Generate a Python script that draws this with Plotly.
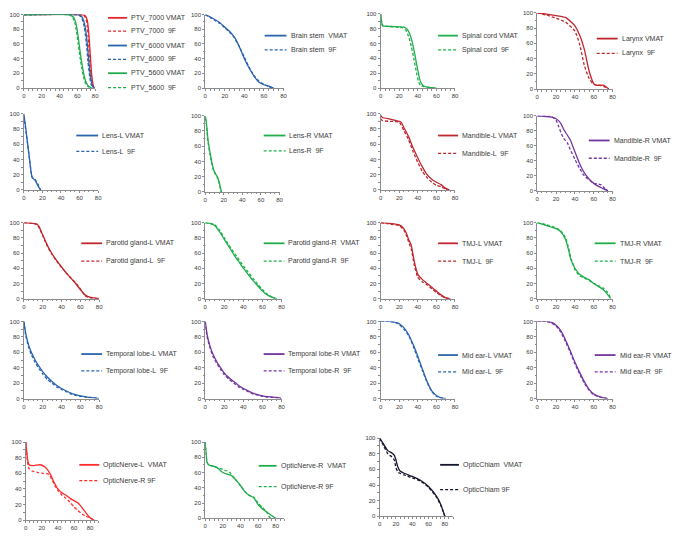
import plotly.graph_objects as go

W, H = 683, 542

# ---------------- data (dose Gy, volume %) ----------------
PTV7000_VMAT_D = [0, 64, 67, 69, 71, 72, 73, 74, 75, 76, 77, 78, 79]
PTV7000_VMAT_V = [100, 100, 99.5, 98, 93, 85, 72, 55, 36, 20, 9, 3, 0]
PTV7000_9F_D = [0, 63, 66, 68, 70, 71, 72, 73, 74, 75, 76, 77, 78]
PTV7000_9F_V = [100, 100, 99.5, 98, 93, 85, 72, 55, 36, 20, 9, 3, 0]
PTV6000_VMAT_D = [0, 60, 63, 65, 67, 69, 71, 73, 75, 77, 79]
PTV6000_VMAT_V = [100, 100, 99, 97, 92, 82, 62, 35, 14, 3, 0]
PTV6000_9F_D = [0, 59, 62, 64, 66, 68, 70, 72, 74, 76, 78]
PTV6000_9F_V = [100, 100, 99, 97, 92, 82, 62, 35, 14, 3, 0]
PTV5600_VMAT_D = [0, 50, 53, 56, 58, 60, 62, 64, 66, 68, 70, 73, 76]
PTV5600_VMAT_V = [100, 100, 99, 96, 90, 78, 60, 42, 27, 15, 7, 2, 0]
PTV5600_9F_D = [0, 49, 52, 55, 57, 59, 61, 63, 65, 67, 69, 72, 75]
PTV5600_9F_V = [100, 100, 99, 96, 90, 78, 60, 42, 27, 15, 7, 2, 0]

BRAIN_VMAT_D = [0, 5, 10, 15, 20, 25, 30, 35, 40, 45, 50, 55, 60, 65, 70]
BRAIN_VMAT_V = [100, 97, 93, 89, 83, 77, 69, 56, 40, 27, 16, 8, 4.5, 2.5, 0]
BRAIN_9F_D = [0, 5, 10, 15, 20, 25, 30, 35, 40, 45, 50, 55, 60, 65, 68]
BRAIN_9F_V = [100, 96, 92, 88, 82, 76, 68, 56, 42, 28, 17, 9, 5, 2, 0]

CORD_VMAT_D = [0, 1, 2, 10, 20, 25, 28, 31, 34, 37, 40, 42, 44, 47, 52, 60]
CORD_VMAT_V = [100, 90, 84, 83, 82.5, 82, 80, 74, 62, 44, 24, 12, 6, 2.5, 1, 0]
CORD_9F_D = [0, 1, 2, 10, 20, 24, 27, 30, 33, 36, 39, 41, 43, 47, 55, 58]
CORD_9F_V = [100, 90, 84, 83, 82, 81, 78, 70, 56, 38, 18, 8, 3.5, 1.5, 0.5, 0]

LARYNX_VMAT_D = [0, 10, 20, 30, 36, 40, 45, 50, 55, 60, 62, 70, 73, 76]
LARYNX_VMAT_V = [100, 98.5, 96.5, 94, 88, 83, 71, 52, 24, 7, 5, 5, 3, 0]
LARYNX_9F_D = [0, 10, 20, 30, 40, 45, 50, 55, 60, 65, 70, 75]
LARYNX_9F_V = [100, 97, 93, 88, 76, 59, 31, 14, 6, 5, 4, 0]

LENSL_VMAT_D = [0, 2, 4, 6, 8, 9, 12, 15, 18]
LENSL_VMAT_V = [100, 82, 62, 42, 22, 16, 13, 6, 0]
LENSL_9F_D = [0, 3, 6, 9, 12, 15, 18]
LENSL_9F_V = [97, 70, 42, 17, 14, 8, 0]

LENSR_VMAT_D = [0, 1, 2, 3, 5, 7, 9, 11, 13, 15, 16.5, 17.5]
LENSR_VMAT_V = [100, 93, 82, 68, 53, 40, 29, 24, 20, 13, 5, 0]
LENSR_9F_D = [0, 1, 2, 3, 5, 7, 9, 11, 13, 15, 16.5, 17]
LENSR_9F_V = [97, 92, 78, 66, 50, 38, 28, 23, 19, 12, 3, 0]

MANDL_VMAT_D = [0, 2, 10, 20, 22, 25, 30, 35, 40, 45, 50, 55, 60, 65, 70, 74]
MANDL_VMAT_V = [98, 95, 93, 90, 89, 82, 70, 55, 42, 30, 20, 14, 10, 7, 2, 0]
MANDL_9F_D = [0, 2, 10, 20, 25, 30, 35, 40, 45, 50, 55, 60, 65, 70, 73]
MANDL_9F_V = [93, 91, 90, 89, 78, 66, 50, 36, 24, 16, 10, 6, 4, 1, 0]

MANDR_VMAT_D = [0, 10, 15, 20, 25, 28, 30, 35, 40, 45, 50, 55, 60, 65, 70, 75]
MANDR_VMAT_V = [100, 99, 98, 96, 90, 82, 78, 68, 52, 36, 24, 16, 10, 6, 3, 0]
MANDR_9F_D = [0, 10, 15, 20, 23, 25, 28, 32, 35, 40, 45, 50, 55, 60, 65, 68, 72, 75]
MANDR_9F_V = [100, 100, 99, 94, 85, 78, 70, 64, 55, 42, 30, 20, 15, 10, 9, 8, 3, 0]

PARL_VMAT_D = [0, 10, 14, 16, 20, 25, 30, 35, 40, 45, 50, 55, 60, 65, 70, 75, 80]
PARL_VMAT_V = [100, 99, 98, 95, 84, 70, 59, 50, 42, 34, 27, 20, 12, 5, 2, 1, 0]
PARL_9F_D = [0, 10, 14, 16, 20, 25, 30, 35, 40, 45, 50, 55, 60, 65, 70, 75, 78]
PARL_9F_V = [100, 99, 97, 94, 83, 69, 58, 49, 41, 34, 27, 21, 13, 4, 1, 0.5, 0]

PARR_VMAT_D = [0, 5, 10, 15, 20, 25, 30, 35, 40, 45, 50, 55, 60, 65, 70, 75]
PARR_VMAT_V = [100, 99, 96, 88, 78, 68, 58, 49, 40, 32, 24, 17, 10, 5, 2, 0]
PARR_9F_D = [0, 5, 10, 15, 20, 25, 30, 35, 40, 45, 50, 55, 60, 65, 70, 73]
PARR_9F_V = [100, 99, 97, 90, 80, 70, 61, 52, 43, 35, 27, 19, 12, 6, 2, 0]

TMJL_VMAT_D = [0, 10, 20, 25, 28, 30, 33, 36, 40, 45, 50, 55, 60, 65, 70, 75]
TMJL_VMAT_V = [100, 99, 97, 92, 85, 78, 70, 50, 32, 25, 20, 15, 10, 5, 1, 0]
TMJL_9F_D = [0, 10, 20, 25, 28, 30, 33, 36, 40, 45, 50, 55, 60, 65, 70, 73]
TMJL_9F_V = [100, 98, 96, 90, 82, 75, 65, 45, 28, 22, 18, 13, 8, 4, 1, 0]

TMJR_VMAT_D = [0, 10, 20, 25, 30, 33, 36, 38, 40, 45, 50, 55, 60, 65, 70, 75, 78]
TMJR_VMAT_V = [100, 96, 92, 88, 78, 65, 50, 45, 40, 32, 28, 25, 20, 16, 12, 5, 0]
TMJR_9F_D = [0, 10, 20, 25, 30, 33, 36, 38, 40, 45, 50, 55, 60, 65, 70, 75, 78]
TMJR_9F_V = [100, 97, 93, 89, 80, 68, 52, 46, 38, 30, 27, 24, 20, 17, 14, 8, 0]

TEMPL_VMAT_D = [0, 2, 5, 8, 12, 16, 20, 25, 30, 35, 40, 45, 50, 55, 60, 65, 70, 75, 80]
TEMPL_VMAT_V = [100, 85, 70, 60, 50, 42, 35, 28, 22, 17, 13, 10, 7, 5, 3.5, 2.5, 1.5, 1, 0]
TEMPL_9F_D = [0, 2, 5, 8, 12, 16, 20, 25, 30, 35, 40, 45, 50, 55, 60, 65, 70, 75, 80]
TEMPL_9F_V = [100, 82, 67, 57, 47, 39, 32, 25, 20, 15, 12, 9, 6, 4, 3, 2, 1.5, 1, 0]

TEMPR_VMAT_D = [0, 2, 5, 8, 12, 16, 20, 25, 30, 35, 40, 45, 50, 55, 60, 65, 70, 75, 80]
TEMPR_VMAT_V = [100, 83, 68, 58, 48, 40, 33, 27, 22, 17, 13, 10, 7, 5, 3.5, 2.5, 2, 1.5, 0]
TEMPR_9F_D = [0, 2, 5, 8, 12, 16, 20, 25, 30, 35, 40, 45, 50, 55, 60, 65, 70, 75, 80]
TEMPR_9F_V = [100, 80, 66, 55, 46, 38, 31, 25, 20, 15, 12, 9, 6, 4.5, 3, 2, 1.5, 1, 0]

MIDL_VMAT_D = [0, 10, 15, 20, 25, 30, 35, 40, 45, 50, 55, 60, 65, 70]
MIDL_VMAT_V = [100, 100, 99, 97, 92, 83, 70, 55, 38, 22, 10, 4, 1, 0]
MIDL_9F_D = [0, 10, 15, 20, 25, 30, 35, 40, 45, 50, 55, 60, 65, 70]
MIDL_9F_V = [100, 100, 99, 96, 90, 82, 68, 52, 36, 21, 9, 3, 1, 0]

MIDR_VMAT_D = [0, 10, 15, 20, 25, 30, 35, 40, 45, 50, 55, 60, 65, 70, 75]
MIDR_VMAT_V = [100, 100, 99, 95, 88, 76, 62, 47, 34, 22, 12, 6, 3, 1, 0]
MIDR_9F_D = [0, 10, 15, 20, 25, 30, 35, 40, 45, 50, 55, 60, 65, 70, 75]
MIDR_9F_V = [100, 100, 98, 94, 86, 74, 60, 45, 32, 20, 11, 5, 2.5, 1, 0]

ONL_VMAT_D = [0, 2, 4, 10, 18, 24, 30, 35, 40, 45, 50, 55, 60, 65, 70, 75, 80, 85]
ONL_VMAT_V = [100, 80, 71, 70, 71, 68, 60, 49, 40, 35, 32, 28, 25, 22, 16, 9, 3, 0]
ONL_9F_D = [0, 2, 4, 8, 15, 22, 28, 32, 36, 40, 45, 50, 55, 60, 65, 70, 75, 80, 84]
ONL_9F_V = [100, 76, 66, 63, 61, 60, 59, 53, 45, 38, 32, 28, 23, 17, 12, 8, 5, 3, 0]

ONR_VMAT_D = [0, 1, 2, 4, 10, 15, 20, 25, 30, 35, 40, 45, 50, 55, 60, 65, 70, 75, 80]
ONR_VMAT_V = [100, 85, 74, 70, 68, 65, 60, 58, 56, 50, 43, 35, 30, 27, 18, 12, 8, 4, 0]
ONR_9F_D = [0, 1, 2, 4, 10, 15, 20, 25, 28, 32, 35, 40, 45, 50, 55, 60, 65, 70, 72, 74]
ONR_9F_V = [100, 85, 74, 70, 68, 66, 64, 62, 60, 54, 50, 43, 35, 30, 28, 20, 14, 8, 3, 0]

OCH_VMAT_D = [0, 5, 10, 15, 18, 20, 22, 25, 30, 40, 50, 60, 70, 75, 80]
OCH_VMAT_V = [100, 92, 84, 81, 78, 72, 64, 58, 55, 51, 46, 38, 25, 15, 0]
OCH_9F_D = [0, 5, 10, 15, 18, 20, 23, 30, 40, 50, 60, 70, 75, 80]
OCH_9F_V = [100, 90, 80, 76, 72, 62, 56, 53, 49, 45, 37, 24, 14, 0]

X_TICKS = [0, 20, 40, 60, 80]
Y_TICKS = [0, 20, 40, 60, 80, 100]

# ---------------- styling ----------------
RED = '#e4262b'
DRED = '#c0262d'
BLUE = '#2a64ad'
GREEN = '#1fae4b'
PURPLE = '#7236a0'
ORED = '#ff2b2b'
BLACK = '#161630'
AXC = '#8c8c8c'
TXT = '#3a3a3a'
FONT = 'Liberation Sans'

S, D = 'solid', '3px,2px'

panels = [
    # row 1
    dict(px=(22, 94), py=(11.7, 86), xmax=80, leg=(107, 126, 128, [15, 28.5, 43, 57, 71, 85.5]),
         series=[("PTV_7000 VMAT", PTV7000_VMAT_D, PTV7000_VMAT_V, RED, S),
                 ("PTV_7000  9F", PTV7000_9F_D, PTV7000_9F_V, RED, D),
                 ("PTV_6000 VMAT", PTV6000_VMAT_D, PTV6000_VMAT_V, BLUE, S),
                 ("PTV_6000  9F", PTV6000_9F_D, PTV6000_9F_V, BLUE, D),
                 ("PTV_5600 VMAT", PTV5600_VMAT_D, PTV5600_VMAT_V, GREEN, S),
                 ("PTV_5600  9F", PTV5600_9F_D, PTV5600_9F_V, GREEN, D)]),
    dict(px=(205, 284), py=(11.7, 86), xmax=80, leg=(265, 287, 290, [33, 47.5]),
         series=[("Brain stem  VMAT", BRAIN_VMAT_D, BRAIN_VMAT_V, BLUE, S),
                 ("Brain stem  9F", BRAIN_9F_D, BRAIN_9F_V, BLUE, D)]),
    dict(px=(382, 457), py=(11, 86), xmax=80, leg=(440, 460, 462, [33, 47.5]),
         series=[("Spinal cord VMAT", CORD_VMAT_D, CORD_VMAT_V, GREEN, S),
                 ("Spinal cord  9F", CORD_9F_D, CORD_9F_V, GREEN, D)]),
    dict(px=(540, 616), py=(10, 87), xmax=80, leg=(600, 621, 623, [36, 51]),
         series=[("Larynx VMAT", LARYNX_VMAT_D, LARYNX_VMAT_V, DRED, S),
                 ("Larynx  9F", LARYNX_9F_D, LARYNX_9F_V, DRED, D)]),
    # row 2
    dict(px=(22, 97), py=(112, 189), xmax=80, leg=(75, 97, 99, [134, 150]),
         series=[("Lens-L VMAT", LENSL_VMAT_D, LENSL_VMAT_V, BLUE, S),
                 ("Lens-L  9F", LENSL_9F_D, LENSL_9F_V, BLUE, D)]),
    dict(px=(205, 280), py=(114, 191), xmax=80, leg=(264, 286, 288, [134, 149.5]),
         series=[("Lens-R VMAT", LENSR_VMAT_D, LENSR_VMAT_V, GREEN, S),
                 ("Lens-R  9F", LENSR_9F_D, LENSR_9F_V, GREEN, D)]),
    dict(px=(382, 457), py=(112, 189), xmax=80, leg=(440, 460, 462, [134, 152]),
         series=[("Mandible-L VMAT", MANDL_VMAT_D, MANDL_VMAT_V, DRED, S),
                 ("Mandible-L  9F", MANDL_9F_D, MANDL_9F_V, DRED, D)]),
    dict(px=(540, 616), py=(114, 190), xmax=80, leg=(592, 613, 615, [139, 157]),
         series=[("Mandible-R VMAT", MANDR_VMAT_D, MANDR_VMAT_V, PURPLE, S),
                 ("Mandible-R  9F", MANDR_9F_D, MANDR_9F_V, PURPLE, D)]),
    # row 3
    dict(px=(22, 98), py=(222, 299), xmax=80, leg=(80, 101, 103, [243, 261]),
         series=[("Parotid gland-L VMAT", PARL_VMAT_D, PARL_VMAT_V, DRED, S),
                 ("Parotid gland-L  9F", PARL_9F_D, PARL_9F_V, DRED, D)]),
    dict(px=(205, 282), py=(222, 299), xmax=80, leg=(264, 285, 287, [243, 261]),
         series=[("Parotid gland-R  VMAT", PARR_VMAT_D, PARR_VMAT_V, GREEN, S),
                 ("Parotid gland-R  9F", PARR_9F_D, PARR_9F_V, GREEN, D)]),
    dict(px=(382, 457), py=(222, 299), xmax=80, leg=(440, 460, 462, [243, 261]),
         series=[("TMJ-L VMAT", TMJL_VMAT_D, TMJL_VMAT_V, DRED, S),
                 ("TMJ-L  9F", TMJL_9F_D, TMJL_9F_V, DRED, D)]),
    dict(px=(540, 616), py=(222, 299), xmax=80, leg=(598, 619, 621, [243, 261]),
         series=[("TMJ-R VMAT", TMJR_VMAT_D, TMJR_VMAT_V, GREEN, S),
                 ("TMJ-R  9F", TMJR_9F_D, TMJR_9F_V, GREEN, D)]),
    # row 4
    dict(px=(22, 98), py=(322, 400), xmax=80, leg=(80, 101, 103, [355, 372]),
         series=[("Temporal lobe-L VMAT", TEMPL_VMAT_D, TEMPL_VMAT_V, BLUE, S),
                 ("Temporal lobe-L  9F", TEMPL_9F_D, TEMPL_9F_V, BLUE, D)]),
    dict(px=(205, 282), py=(322, 400), xmax=80, leg=(264, 285, 287, [355, 372]),
         series=[("Temporal lobe-R VMAT", TEMPR_VMAT_D, TEMPR_VMAT_V, PURPLE, S),
                 ("Temporal lobe-R  9F", TEMPR_9F_D, TEMPR_9F_V, PURPLE, D)]),
    dict(px=(382, 457), py=(322, 400), xmax=80, leg=(440, 460, 462, [356, 373]),
         series=[("Mid ear-L VMAT", MIDL_VMAT_D, MIDL_VMAT_V, BLUE, S),
                 ("Mid ear-L  9F", MIDL_9F_D, MIDL_9F_V, BLUE, D)]),
    dict(px=(540, 616), py=(322, 400), xmax=80, leg=(598, 619, 621, [356, 373]),
         series=[("Mid ear-R VMAT", MIDR_VMAT_D, MIDR_VMAT_V, PURPLE, S),
                 ("Mid ear-R  9F", MIDR_9F_D, MIDR_9F_V, PURPLE, D)]),
    # row 5
    dict(px=(24, 97), py=(444, 523), xmax=90, leg=(78, 98, 100, [467, 483]),
         series=[("OpticNerve-L  VMAT", ONL_VMAT_D, ONL_VMAT_V, ORED, S),
                 ("OpticNerve-R 9F", ONL_9F_D, ONL_9F_V, ORED, D)]),
    dict(px=(205, 285), py=(444, 521), xmax=90, leg=(259, 277, 279, [468, 489]),
         series=[("OpticNerve-R  VMAT", ONR_VMAT_D, ONR_VMAT_V, GREEN, S),
                 ("OpticNerve-R 9F", ONR_9F_D, ONR_9F_V, GREEN, D)]),
    dict(px=(381, 455), py=(440, 519), xmax=90, leg=(442, 461, 463, [467, 492]),
         series=[("OpticChiam  VMAT", OCH_VMAT_D, OCH_VMAT_V, BLACK, S),
                 ("OpticChiam 9F", OCH_9F_D, OCH_9F_V, BLACK, D)]),
]

fig = go.Figure()
layout = dict(width=W, height=H, margin=dict(l=0, r=0, t=0, b=0),
              paper_bgcolor='white', plot_bgcolor='white', showlegend=False,
              hovermode=False)
shapes, annots = [], []

for i, p in enumerate(panels):
    k = '' if i == 0 else str(i + 1)
    xa, ya = 'x' + k, 'y' + k
    x0, x1 = p['px']
    yt, yb = p['py']
    common = dict(showline=True, linecolor=AXC, linewidth=1, ticks='outside', ticklen=2,
                  tickcolor=AXC, tickwidth=1, showgrid=False, zeroline=False,
                  tickfont=dict(family=FONT, size=6, color=TXT), fixedrange=True)
    layout['xaxis' + k] = dict(domain=[x0 / W, x1 / W], range=[0, p['xmax']], anchor=ya,
                               tickvals=X_TICKS,
                               minor=dict(dtick=5, ticks='outside', ticklen=1.5, tickcolor=AXC),
                               **common)
    layout['yaxis' + k] = dict(domain=[1 - yb / H, 1 - yt / H], range=[0, 100], anchor=xa,
                               tickvals=Y_TICKS,
                               minor=dict(dtick=10, ticks='outside', ticklen=1.5, tickcolor=AXC),
                               **common)
    for name, dx, vy, col, dash in p['series']:
        fig.add_trace(go.Scatter(x=dx, y=vy, xaxis=xa, yaxis=ya, mode='lines', name=name,
                                 line=dict(color=col, width=1.3, dash=dash, shape='spline',
                                           smoothing=0.5),
                                 hoverinfo='skip'))
    lx0, lx1, tx, ys = p['leg']
    for (name, dx, vy, col, dash), ly in zip(p['series'], ys):
        shapes.append(dict(type='line', xref='paper', yref='paper', x0=lx0 / W, x1=lx1 / W,
                           y0=1 - ly / H, y1=1 - ly / H,
                           line=dict(color=col, width=1.8 if dash == S else 1.3, dash=dash)))
        annots.append(dict(xref='paper', yref='paper', x=tx / W, y=1 - ly / H, text=name,
                           showarrow=False, xanchor='left', yanchor='middle',
                           font=dict(family=FONT, size=7, color=TXT)))

layout['shapes'] = shapes
layout['annotations'] = annots
fig.update_layout(**layout)
fig.write_html("out.html", config={'displayModeBar': False},
               post_script="document.body.style.margin='0';document.body.style.overflow='hidden';")
